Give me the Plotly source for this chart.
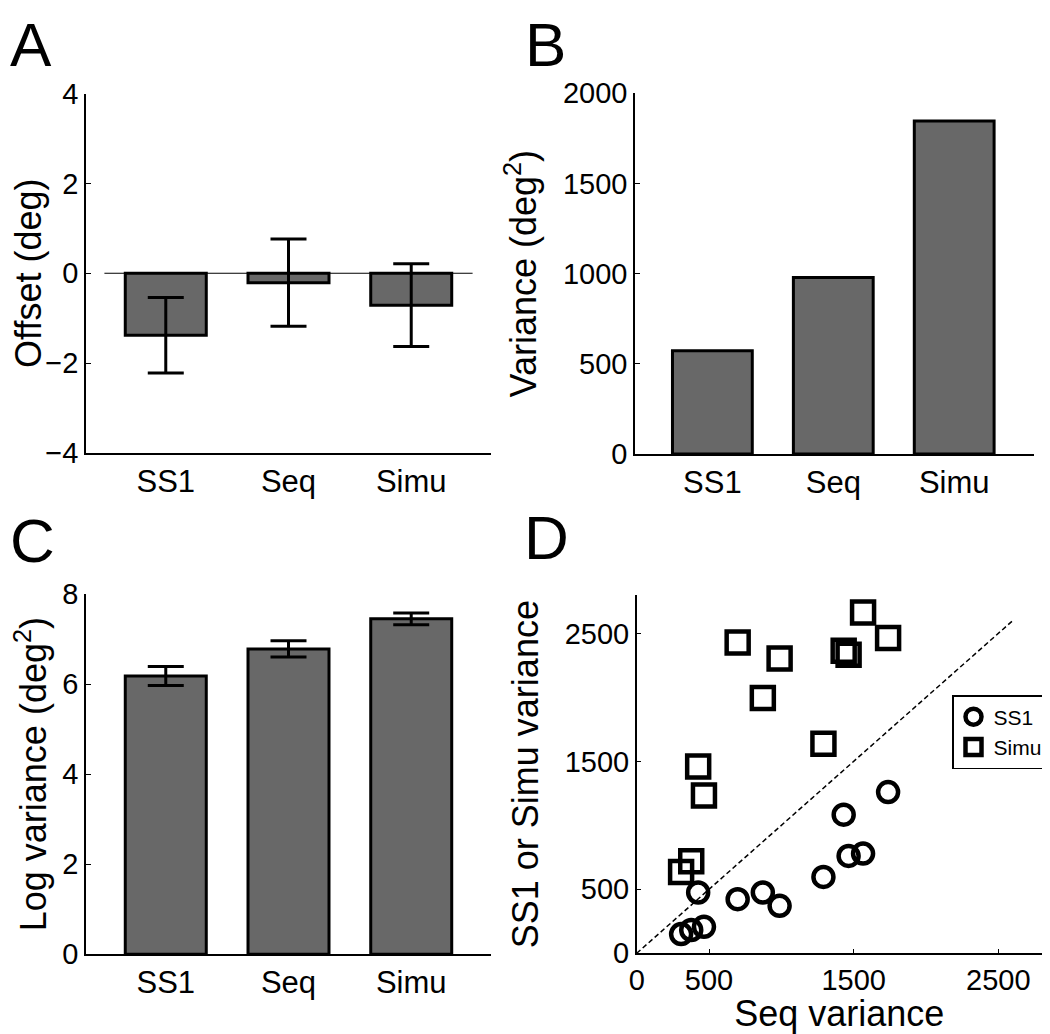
import plotly.graph_objects as go

# DATA
conditions = ['SS1', 'Seq', 'Simu']

offset_mean = [-1.38, -0.21, -0.71]
offset_err = [0.84, 0.97, 0.92]

variance = [573, 979, 1846]

log_var_mean = [6.18, 6.78, 7.45]
log_var_err = [0.21, 0.18, 0.13]

seq_var = [307, 377, 465, 425, 698, 872, 988, 1291, 1431, 1465, 1565, 1738]
ss1_var = [150, 182, 207, 475, 423, 475, 371, 597, 1083, 761, 779, 1260]
simu_var = [636, 719, 1234, 1460, 2429, 1995, 2304, 1637, 2364, 2333, 2663, 2463]

unity = [0, 2600]

#STYLE
FONT = 'Liberation Sans, Arial, Helvetica, sans-serif'
BAR_COLOR = '#686868'
OFF = 8  # page body margin
W, H = 1050 - OFF, 1034 - OFF

def axisDict():
    axDICT = dict(showline=True,
                  linecolor='black',
                  linewidth=1.5,
                  mirror=False,
                  ticks='inside',
                  ticklen=5,
                  tickwidth=1.2,
                  tickcolor='black',
                  showgrid=False,
                  zeroline=False,
                  automargin=False,
                  tickfont=dict(size=29, color='black'),
                  title=dict(font=dict(size=36, color='black')))
    return axDICT

def catAxis():
    ax = axisDict()
    ax.update(ticks='', tickfont=dict(size=31, color='black'))
    return ax

# pixel positions measured in the 1050x1034 page -> paper fractions
def px_x(a, b):
    return [(a - OFF) / W, (b - OFF) / W]

def px_y(top, bottom):
    return [1 - (bottom - OFF) / H, 1 - (top - OFF) / H]

fig = go.Figure()

# A - offset
fig.add_trace(go.Bar(x=conditions, y=offset_mean, width=0.66,
                     marker=dict(color=BAR_COLOR, line=dict(color='black', width=3)),
                     error_y=dict(type='data', array=offset_err, color='black', thickness=3, width=18),
                     xaxis='x', yaxis='y', showlegend=False))

# B - variance
fig.add_trace(go.Bar(x=conditions, y=variance, width=0.66,
                     marker=dict(color=BAR_COLOR, line=dict(color='black', width=3)),
                     xaxis='x2', yaxis='y2', showlegend=False))

# C - log variance
fig.add_trace(go.Bar(x=conditions, y=log_var_mean, width=0.66,
                     marker=dict(color=BAR_COLOR, line=dict(color='black', width=3)),
                     error_y=dict(type='data', array=log_var_err, color='black', thickness=3, width=18),
                     xaxis='x3', yaxis='y3', showlegend=False))

# D - scatter
fig.add_trace(go.Scatter(x=unity, y=unity, mode='lines',
                         line=dict(color='black', width=1.5, dash='5px,3px'),
                         xaxis='x4', yaxis='y4', showlegend=False))
fig.add_trace(go.Scatter(x=seq_var, y=ss1_var, mode='markers', name='SS1',
                         marker=dict(symbol='circle-open', size=20, color='black', line=dict(width=4.5)),
                         xaxis='x4', yaxis='y4'))
fig.add_trace(go.Scatter(x=seq_var, y=simu_var, mode='markers', name='Simu',
                         marker=dict(symbol='square-open', size=22, color='black', line=dict(width=4.5)),
                         xaxis='x4', yaxis='y4'))

fig.update_layout(
    width=W, height=H,
    margin=dict(l=0, r=0, t=0, b=0),
    paper_bgcolor='white', plot_bgcolor='white',
    font=dict(family=FONT, color='black'),
    xaxis=dict(catAxis(), domain=px_x(86, 491), range=[-0.65, 2.65]),
    yaxis=dict(axisDict(), domain=px_y(93.5, 453), range=[-4, 4],
               tickvals=[-4, -2, 0, 2, 4], ticktext=['\u22124', '\u22122', '0', '2', '4']),
    xaxis2=dict(catAxis(), domain=px_x(635, 1034), range=[-0.64, 2.66], anchor='y2'),
    yaxis2=dict(axisDict(), domain=px_y(93.3, 454), range=[0, 2000],
                tickvals=[0, 500, 1000, 1500, 2000], anchor='x2'),
    xaxis3=dict(catAxis(), domain=px_x(86, 491), range=[-0.65, 2.65], anchor='y3'),
    yaxis3=dict(axisDict(), domain=px_y(594, 954.3), range=[0, 8],
                tickvals=[0, 2, 4, 6, 8], anchor='x3'),
    xaxis4=dict(axisDict(), domain=px_x(636.7, 1041.7), range=[0, 2800],
                tickvals=[0, 500, 1500, 2500], anchor='y4'),
    yaxis4=dict(axisDict(), domain=px_y(595, 953.3), range=[0, 2800],
                tickvals=[0, 500, 1500, 2500], anchor='x4'),
    legend=dict(x=(1048 - OFF) / W, y=1 - (695 - OFF) / H, xanchor='right', yanchor='top',
                bordercolor='black', borderwidth=1.5, bgcolor='white',
                itemwidth=30, font=dict(size=21, color='black')),
)

fig.layout.yaxis.title.text = 'Offset (deg)'
fig.layout.yaxis2.title.text = 'Variance (deg<sup>2</sup>)'
fig.layout.yaxis3.title.text = 'Log variance (deg<sup>2</sup>)'
fig.layout.xaxis4.title.text = 'Seq variance'
fig.layout.yaxis4.title.text = 'SS1 or Simu variance'

# zero reference line in A
fig.add_shape(type='line', xref='x', yref='y', x0=-0.5, x1=2.5, y0=0, y1=0,
              line=dict(color='black', width=1.2))

# panel letters
for letter, xp, yp in [('A', 8, 44), ('B', 523, 44), ('C', 8, 540), ('D', 522, 537)]:
    fig.add_annotation(text=letter, xref='paper', yref='paper',
                       x=(xp - OFF) / W, y=1 - (yp - OFF) / H,
                       xanchor='left', yanchor='middle', showarrow=False,
                       font=dict(size=62, color='black'))

fig.write_html("out.html")
